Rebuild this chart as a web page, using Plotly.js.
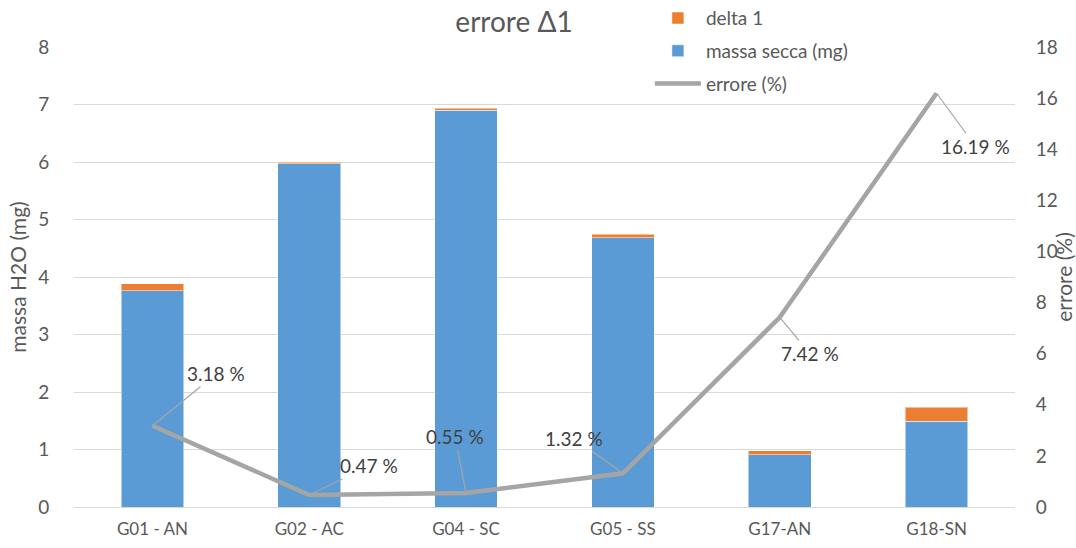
<!DOCTYPE html>
<html>
<head>
<meta charset="utf-8">
<script src="https://cdn.plot.ly/plotly-3.0.1.min.js"></script>
<style>html,body{margin:0;padding:0;background:#fff;}#chart{width:1076px;height:548px;}</style>
</head>
<body>
<div id="chart"></div>
<script>
// Data
const categories = ["G01 - AN", "G02 - AC", "G04 - SC", "G05 - SS", "G17-AN", "G18-SN"];
const massaSecca = [3.76, 5.97, 6.90, 4.68, 0.91, 1.49];
const delta1 = [0.12, 0.028, 0.038, 0.062, 0.0675, 0.241];
const errore = [3.18, 0.47, 0.55, 1.32, 7.42, 16.19];
const erroreLabels = ["3.18 %", "0.47 %", "0.55 %", "1.32 %", "7.42 %", "16.19 %"];
// label offsets (px) from the point
const labelOffsets = [[64, -52], [60, -29], [-11, -56], [-49, -35], [30, 36], [39, 53]];

const FONT = "Lato, 'Open Sans', sans-serif";
const GREY = "#595959";

const traces = [
  {
    type: "bar", name: "massa secca (mg)", x: categories, y: massaSecca,
    marker: {color: "#5b9bd5", line: {color: "rgba(255,255,255,0.5)", width: 1}},
    legendrank: 2, legendgroup: "b", hoverinfo: "skip"
  },
  {
    type: "bar", name: "delta 1", x: categories, y: delta1,
    marker: {color: "#ed7d31", line: {color: "rgba(255,255,255,0.5)", width: 1}},
    legendrank: 1, legendgroup: "a", hoverinfo: "skip"
  },
  {
    type: "scatter", mode: "lines", name: "errore (%)", x: categories, y: errore,
    yaxis: "y2", line: {color: "#a5a5a5", width: 4.5},
    legendrank: 3, legendgroup: "c", hoverinfo: "skip"
  }
];

const annotations = errore.map((v, i) => ({
  x: categories[i], y: v, xref: "x", yref: "y2",
  text: erroreLabels[i], showarrow: true, arrowhead: 0, arrowwidth: 1.2,
  arrowcolor: "#a5a5a5", ax: labelOffsets[i][0], ay: labelOffsets[i][1],
  font: {family: FONT, size: 19, color: "#404040"}
}));

const layout = {
  width: 1076, height: 548,
  margin: {l: 74, r: 61, t: 47, b: 41, autoexpand: false},
  paper_bgcolor: "#fff", plot_bgcolor: "#fff",
  font: {family: FONT, size: 18, color: GREY},
  barmode: "stack", bargap: 0.6,
  title: {text: "errore Δ1", x: 514 / 1076, xref: "container", xanchor: "center",
          y: 0.96, yref: "container", yanchor: "middle",
          font: {family: FONT, size: 28, color: GREY}},
  xaxis: {
    showgrid: false, showline: true, linecolor: "#d9d9d9", linewidth: 1,
    tickfont: {family: FONT, size: 17, color: GREY}, ticks: "outside", ticklen: 7,
    tickcolor: "rgba(0,0,0,0)", automargin: false
  },
  yaxis: {
    range: [0, 8], dtick: 1, showgrid: true, gridcolor: "#d9d9d9", gridwidth: 1,
    zeroline: false, showline: false, ticks: "outside", ticklen: 20, tickcolor: "rgba(0,0,0,0)",
    tickfont: {family: FONT, size: 19, color: GREY}, automargin: false,
    title: {text: "massa H2O (mg)", font: {family: FONT, size: 21, color: GREY}, standoff: 5}
  },
  yaxis2: {
    range: [0, 18], dtick: 2, overlaying: "y", side: "right", showgrid: false,
    zeroline: false, showline: false, ticks: "outside", ticklen: 16, tickcolor: "rgba(0,0,0,0)",
    tickfont: {family: FONT, size: 19, color: GREY}, automargin: false,
    title: {text: "errore (%)", font: {family: FONT, size: 21, color: GREY}, standoff: 0}
  },
  legend: {
    x: 0.612, xanchor: "left", y: 1.104, yanchor: "top",
    traceorder: "grouped", tracegroupgap: 5, orientation: "v",
    itemwidth: 46, bgcolor: "rgba(0,0,0,0)",
    font: {family: FONT, size: 19, color: GREY}
  },
  annotations: annotations,
  showlegend: true
};

Plotly.newPlot("chart", traces, layout, {displayModeBar: false, staticPlot: true});
</script>
</body>
</html>
